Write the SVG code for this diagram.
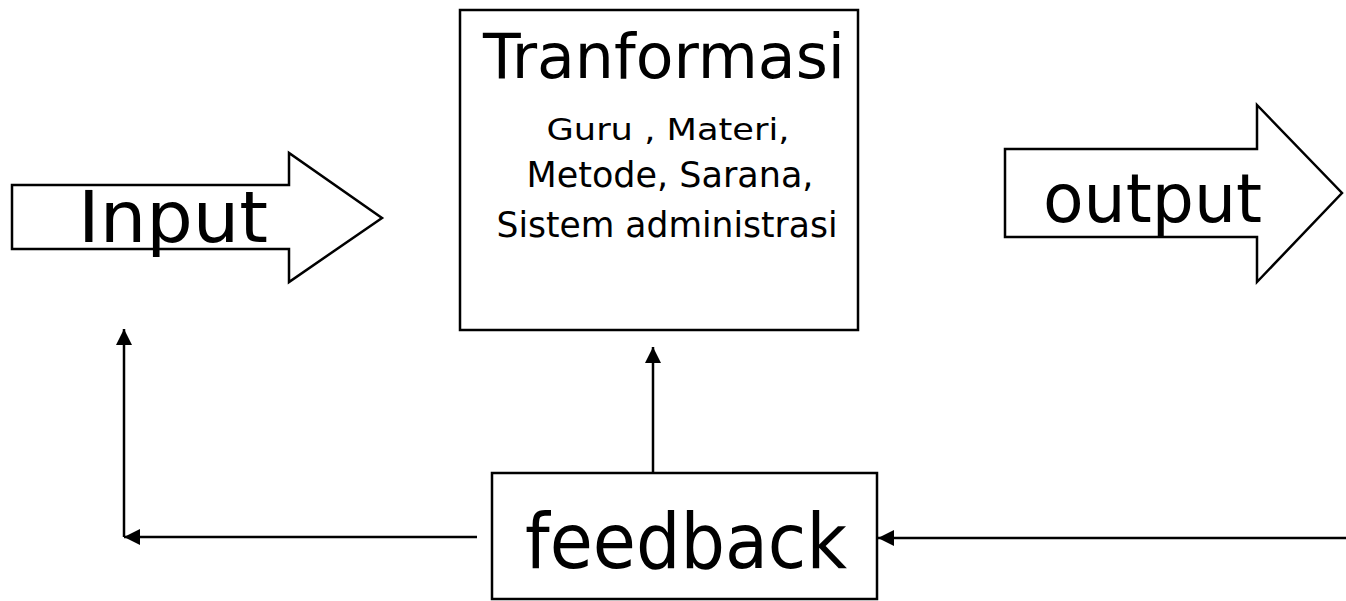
<svg xmlns="http://www.w3.org/2000/svg" width="1346" height="601" viewBox="0 0 1346 601">
  <style>
    .shape { fill: #ffffff; stroke: #000000; stroke-width: 2.5; }
    .conn { fill: none; stroke: #000000; stroke-width: 2.5; marker-end: url(#arrow); }
    .lbl { font-family: "DejaVu Sans", "Noto Sans", sans-serif; fill: #000000; }
  </style>
  <defs>
    <marker id="arrow" viewBox="0 0 10 10" refX="10" refY="5" markerWidth="16" markerHeight="17" markerUnits="userSpaceOnUse" orient="auto">
      <path d="M0,0 L10,5 L0,10 z" fill="#000000"/>
    </marker>
  </defs>
  <rect width="1346" height="601" fill="#ffffff"/>

  <g id="input">
    <polygon class="shape" points="12,185 289,185 289,153 382,218 289,282 289,249 12,249"/>
    <text class="lbl" x="78" y="242" font-size="72" textLength="190" lengthAdjust="spacingAndGlyphs">Input</text>
  </g>

  <g id="transformasi">
    <rect class="shape" x="460" y="10" width="398" height="320"/>
    <text class="lbl" x="483" y="78" font-size="63" textLength="362" lengthAdjust="spacingAndGlyphs">Tranformasi</text>
    <text class="lbl" x="668" y="140" font-size="31" text-anchor="middle" textLength="243" lengthAdjust="spacingAndGlyphs">Guru , Materi,</text>
    <text class="lbl" x="670" y="187" font-size="36" text-anchor="middle" textLength="287" lengthAdjust="spacingAndGlyphs">Metode, Sarana,</text>
    <text class="lbl" x="667" y="237" font-size="36" text-anchor="middle" textLength="341" lengthAdjust="spacingAndGlyphs">Sistem administrasi</text>
  </g>

  <g id="output">
    <polygon class="shape" points="1005,149 1257,149 1257,105 1342,193 1257,282 1257,237 1005,237"/>
    <text class="lbl" x="1043" y="222" font-size="68" textLength="219" lengthAdjust="spacingAndGlyphs">output</text>
  </g>

  <g id="feedback">
    <rect class="shape" x="492" y="473" width="385" height="126"/>
    <text class="lbl" x="525" y="568" font-size="76" textLength="322" lengthAdjust="spacingAndGlyphs">feedback</text>
  </g>

  <g id="connectors">
    <path class="conn" d="M653,473 L653,347"/>
    <path class="conn" d="M477,537 L124,537"/>
    <path class="conn" d="M124,537 L124,329"/>
    <path class="conn" d="M1346,538 L878,538"/>
  </g>
</svg>
